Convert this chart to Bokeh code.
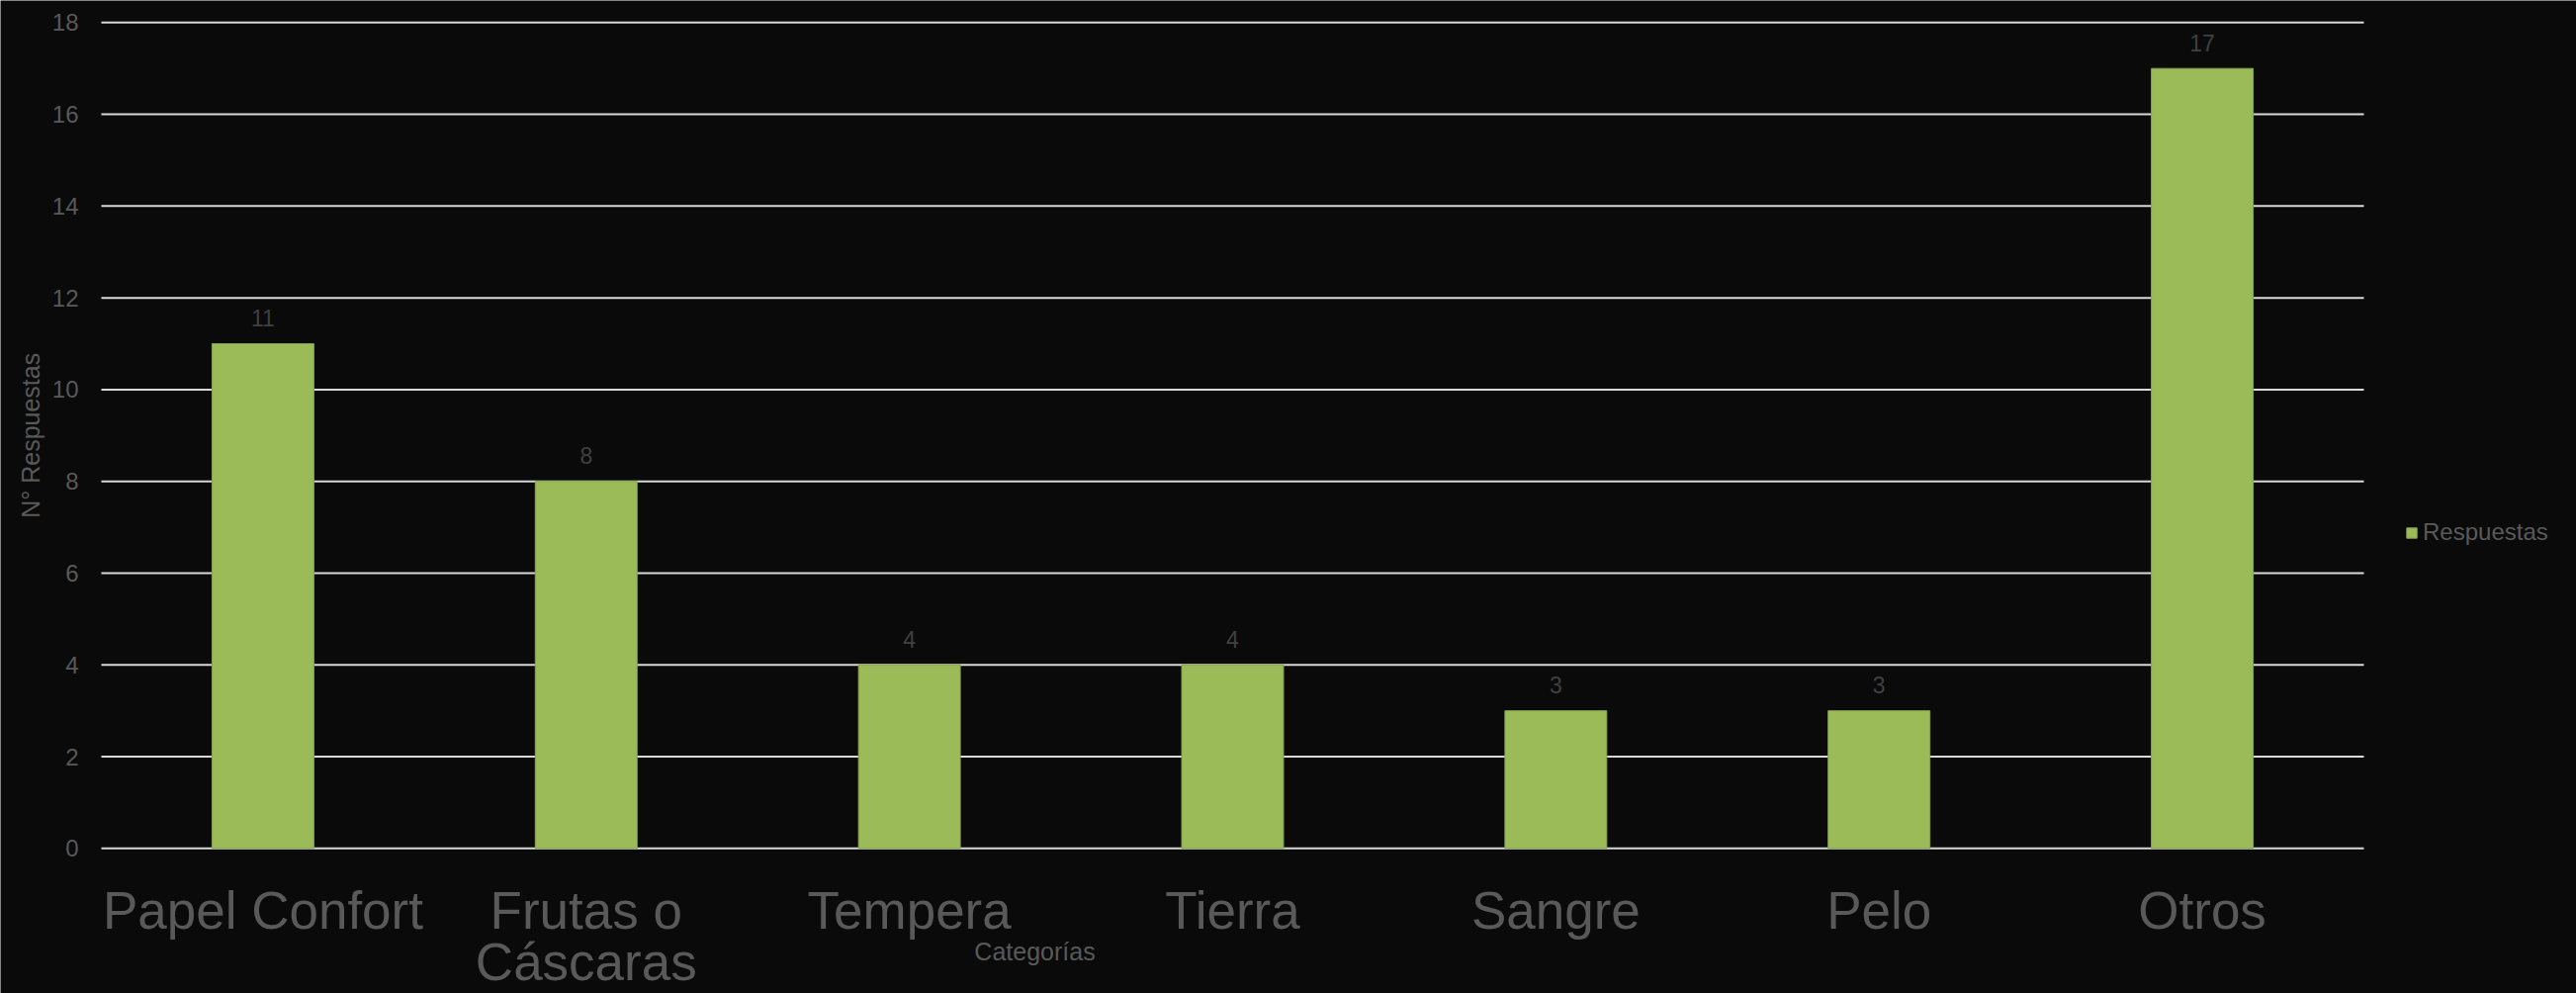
import numpy as np
from bokeh.plotting import figure
from bokeh.models import Range1d, ColumnDataSource, Legend, LegendItem
from bokeh.core.properties import value
from bokeh.embed import file_html
from bokeh.resources import INLINE

# ---- data ----
categories = ["Papel Confort", "Frutas o\nCáscaras", "Tempera", "Tierra", "Sangre", "Pelo", "Otros"]
respuestas = [11, 8, 4, 4, 3, 3, 17]
y_ticks = [0, 2, 4, 6, 8, 10, 12, 14, 16, 18]
series_name = "Respuestas"
y_title = "N° Respuestas"
x_title = "Categorías"

# ---- style / layout constants ----
W, H = 2605, 1004
FRAME_L, FRAME_R = 102, 2390      # px of category band edges
Y0_PX, Y18_PX = 857.3, 22.3       # px of value 0 and 18
PX_X = (FRAME_R - FRAME_L) / len(categories)
PX_Y = (Y0_PX - Y18_PX) / 18.0
BG = "#0a0a0a"
BAR = "#9bbb59"
TXT = "#595959"
FONT = value("Liberation Sans")


def px2x(px):
    return (px - FRAME_L) / PX_X


def px2y(py):
    return (Y0_PX - py) / PX_Y


p = figure(width=W, height=H,
           x_range=Range1d(px2x(0), px2x(W)), y_range=Range1d(px2y(H), px2y(0)),
           x_axis_location=None, y_axis_location=None,
           output_backend="svg", toolbar_location=None, min_border=0)
p.background_fill_color = BG
p.border_fill_color = BG
p.outline_line_color = None
p.grid.visible = False

n = len(categories)
xc = np.arange(n) + 0.5

# gridlines (value axis)
p.segment(x0=[0] * len(y_ticks), x1=[n] * len(y_ticks), y0=y_ticks, y1=y_ticks,
          line_color="#d9d9d9", line_width=2)

# bars
src = ColumnDataSource(dict(x=xc, val=respuestas, lbl=[str(v) for v in respuestas],
                            lbl_y=[v + 25.9 / PX_Y for v in respuestas]))
r = p.vbar(x="x", top="val", width=0.315, source=src, fill_color=BAR,
           line_color="#86a34a", line_width=1)

# data labels
p.text(x="x", y="lbl_y", text="lbl", source=src, text_align="center", text_baseline="middle",
       text_font=FONT, text_font_size="23px", text_color="#404040")

# y tick labels
p.text(x=[px2x(79)] * len(y_ticks), y=y_ticks, text=[str(t) for t in y_ticks],
       text_align="right", text_baseline="middle",
       text_font=FONT, text_font_size="24px", text_color=TXT)

# category labels (multi-line split)
cx, cy, ct = [], [], []
for i, c in enumerate(categories):
    for j, line in enumerate(c.split("\n")):
        cx.append(xc[i])
        cy.append(px2y(919.5 + 52 * j))
        ct.append(line)
p.text(x=cx, y=cy, text=ct, text_align="center", text_baseline="middle",
       text_font=FONT, text_font_size="53px", text_color=TXT)

# axis titles
p.text(x=[px2x(30)], y=[9], text=[y_title], angle=np.pi / 2, text_align="center",
       text_baseline="middle", text_font=FONT, text_font_size="25px", text_color=TXT)
p.text(x=[px2x(1046)], y=[px2y(961)], text=[x_title], text_align="center",
       text_baseline="middle", text_font=FONT, text_font_size="25px", text_color=TXT)

legend = Legend(items=[LegendItem(label=series_name, renderers=[r])], location=(2432, 452),
                glyph_width=13, glyph_height=13, label_standoff=5, padding=0, margin=0,
                border_line_color=None, background_fill_alpha=0,
                label_text_font="Liberation Sans", label_text_font_size="24px", label_text_color=TXT)
p.add_layout(legend)

open("out.html", "w").write(file_html(p, INLINE))
